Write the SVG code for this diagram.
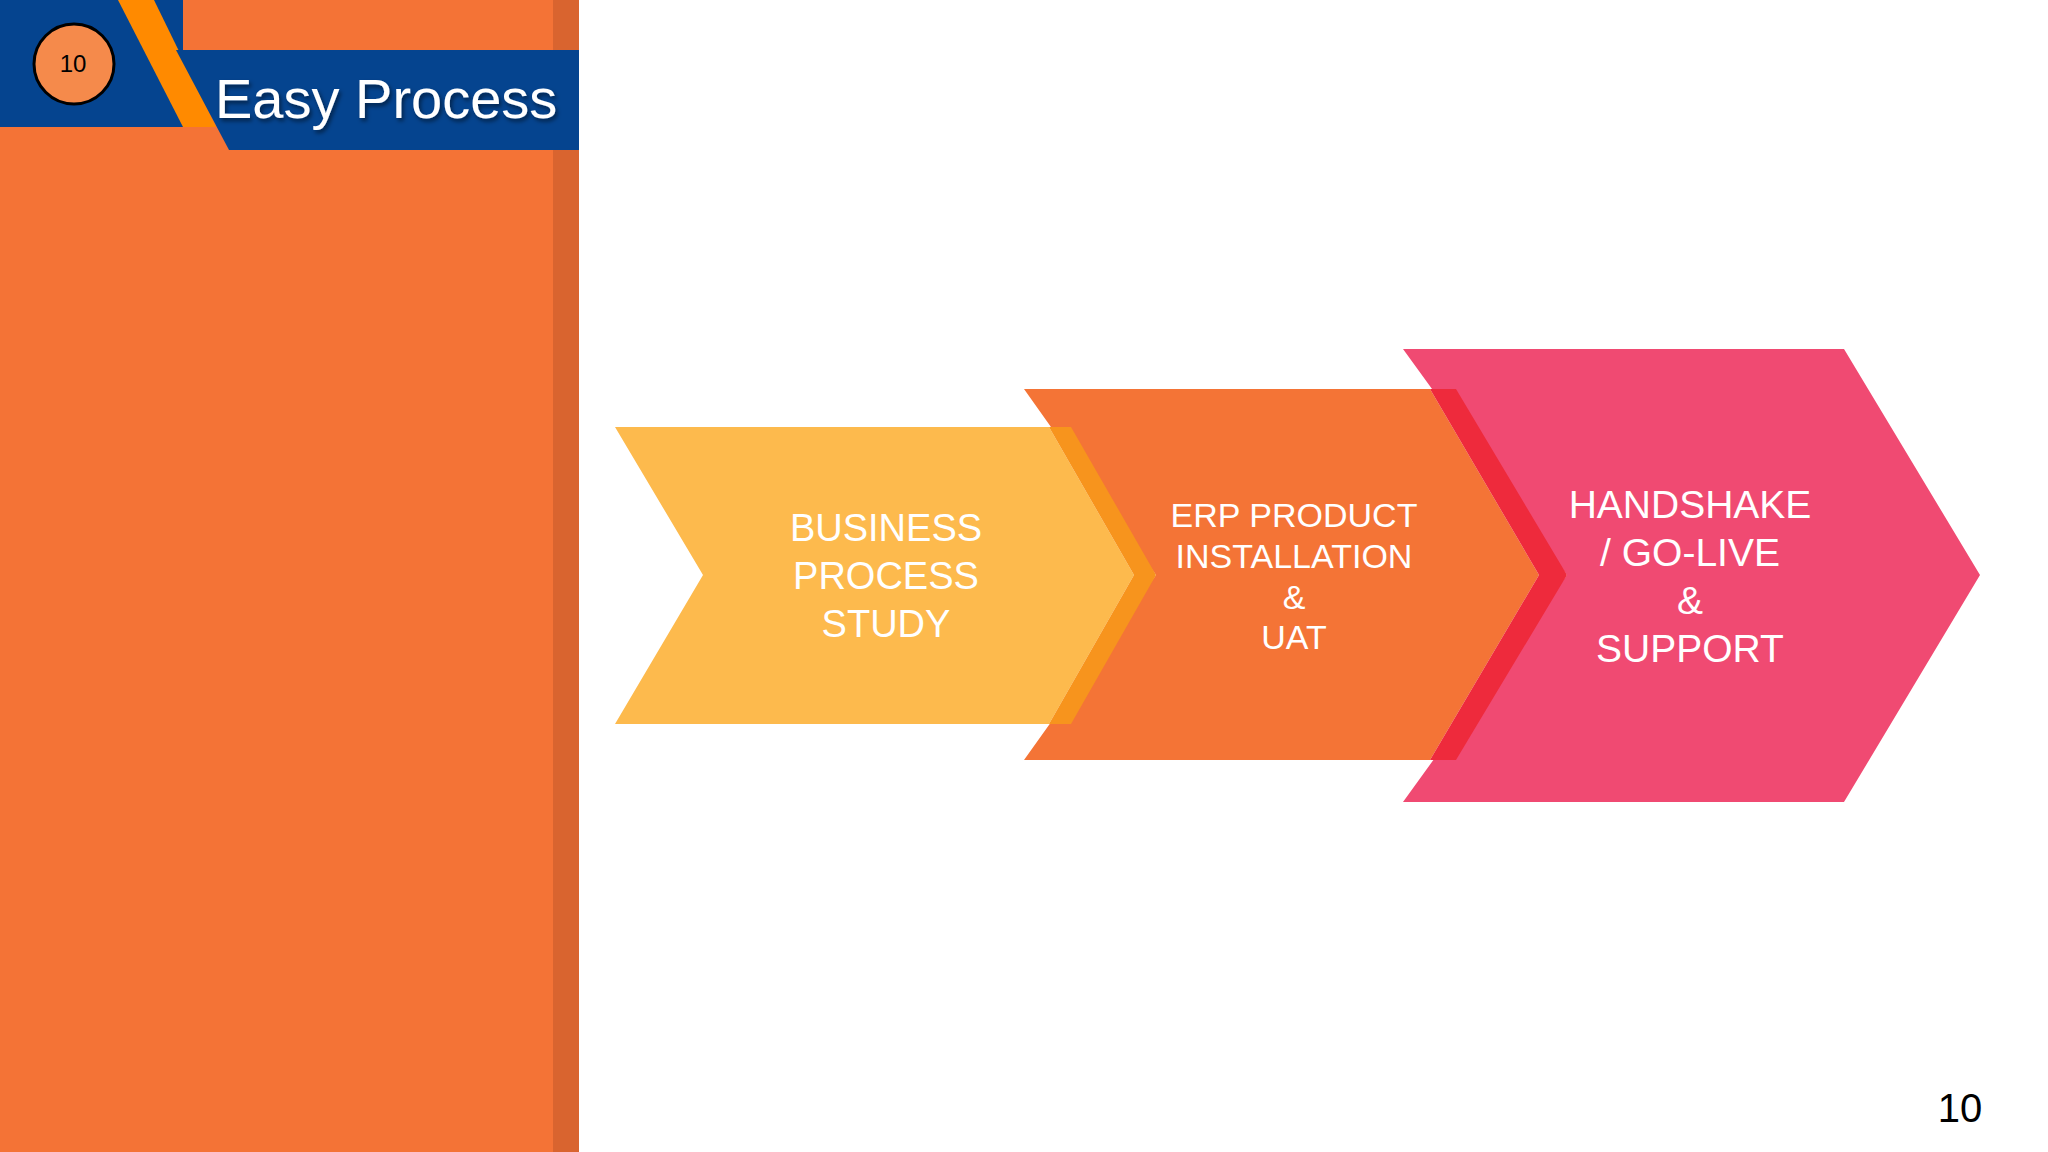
<svg xmlns="http://www.w3.org/2000/svg" width="2048" height="1152" viewBox="0 0 2048 1152">
<defs>
<style>
.t{font-family:"Liberation Sans",Arial,sans-serif;fill:#fff;text-anchor:middle}
</style>
<filter id="sh" x="-10%" y="-10%" width="130%" height="140%"><feDropShadow dx="2" dy="3" stdDeviation="2" flood-color="#000" flood-opacity="0.5"/></filter>
</defs>
<rect width="2048" height="1152" fill="#fff"/>
<g id="header">
<rect x="0" y="0" width="553" height="1152" fill="#F47336"/>
<rect x="553" y="0" width="26" height="1152" fill="#D9642F"/>
<rect x="0" y="0" width="183" height="127" fill="#05448F"/>
<polygon points="118,0 154,0 216,127 183,127" fill="#FF8A00"/>
<polygon points="176,50 579,50 579,150 229,150" fill="#05448F"/>
<circle cx="74" cy="64" r="40" fill="#F58A4B" stroke="#000" stroke-width="3"/>
<text x="73" y="72" font-family="Liberation Sans,Arial,sans-serif" font-size="24" text-anchor="middle" fill="#000">10</text>
<text x="215" y="118" font-family="Liberation Sans,Arial,sans-serif" font-size="56" fill="#fff" filter="url(#sh)">Easy Process</text>
</g>
<g id="step3">
<polygon points="1403,349 1844,349 1980,575 1844,802 1403,802 1567,575" fill="#F04A72"/>
</g>
<g id="step2">
<polygon points="1024,389 1430,389 1539,575 1430,760 1024,760 1156,575" fill="#F47436"/>
<polygon points="1430,389 1456,389 1567,575 1456,760 1430,760 1539,575" fill="#EE2A3C"/>
</g>
<g id="step1">
<polygon points="615,427 1049,427 1134,575 1049,724 615,724 703,575" fill="#FDBA4D"/>
<polygon points="1049,427 1071,427 1156,575 1071,724 1049,724 1134,575" fill="#F7941D"/>
</g>
<g id="labels">
<text class="t" font-size="38"><tspan x="886" y="541">BUSINESS</tspan><tspan x="886" y="589">PROCESS</tspan><tspan x="886" y="637">STUDY</tspan></text>
<text class="t" font-size="34"><tspan x="1294" y="527">ERP PRODUCT</tspan><tspan x="1294" y="568">INSTALLATION</tspan><tspan x="1294" y="609">&amp;</tspan><tspan x="1294" y="649">UAT</tspan></text>
<text class="t" font-size="39"><tspan x="1690" y="518">HANDSHAKE</tspan><tspan x="1690" y="566">/  GO-LIVE</tspan><tspan x="1690" y="614">&amp;</tspan><tspan x="1690" y="662">SUPPORT</tspan></text>
</g>
<g id="connectors"></g>
<text x="1960" y="1122" font-family="Liberation Sans,Arial,sans-serif" font-size="40" text-anchor="middle" fill="#000">10</text>
</svg>
